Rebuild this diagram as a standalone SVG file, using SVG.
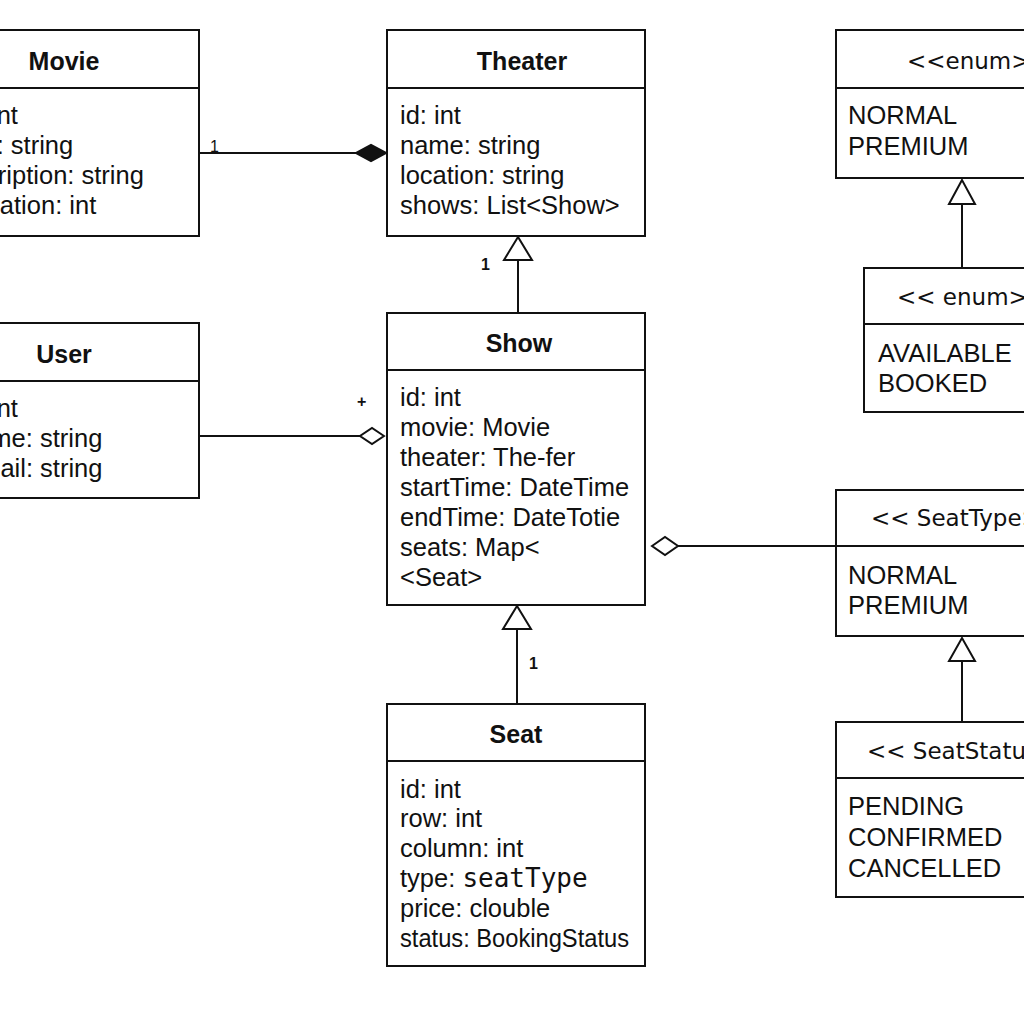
<svg xmlns="http://www.w3.org/2000/svg" width="1024" height="1024" viewBox="0 0 1024 1024">
<style>
.box{fill:#fff;stroke:#111;stroke-width:2}
.div{stroke:#111;stroke-width:2}
.ttl{font-family:"Liberation Sans",Arial,sans-serif;font-size:25px;font-weight:bold;fill:#111;text-anchor:middle}
.att{font-family:"Liberation Sans",Arial,sans-serif;font-size:25.5px;fill:#111}
.st{font-family:"DejaVu Sans",sans-serif;font-size:23px;fill:#111}
.mono{font-family:"DejaVu Sans Mono",monospace;font-size:26px}
.ln{stroke:#111;stroke-width:2;fill:none}
.hol{fill:#fff;stroke:#111;stroke-width:2}
.fil{fill:#111;stroke:#111;stroke-width:2}
.lbl{font-family:"Liberation Sans",Arial,sans-serif;font-size:16px;fill:#111}
</style>
<rect width="1024" height="1024" fill="#fff"/>
<g id="connectors">
  <line class="ln" x1="199" y1="153" x2="358" y2="153"/>
  <polygon class="fil" points="386,153 371,145 356,153 371,161"/>
  <text class="lbl" x="210" y="152">1</text>
  <line class="ln" x1="199" y1="436" x2="361" y2="436"/>
  <polygon class="hol" points="384,436 372,428 360,436 372,444"/>
  <text class="lbl" x="357" y="407" font-weight="bold">+</text>
  <line class="ln" x1="518" y1="313" x2="518" y2="260"/>
  <polygon class="hol" points="518,237 504,260 532,260"/>
  <text class="lbl" x="481" y="270" font-weight="bold">1</text>
  <line class="ln" x1="517" y1="704" x2="517" y2="630"/>
  <polygon class="hol" points="517,606 503,629 531,629"/>
  <text class="lbl" x="529" y="669" font-weight="bold">1</text>
  <line class="ln" x1="678" y1="546" x2="836" y2="546"/>
  <polygon class="hol" points="652,546 665,537 678,546 665,555"/>
  <line class="ln" x1="962" y1="268" x2="962" y2="204"/>
  <polygon class="hol" points="962,180 949,204 975,204"/>
  <line class="ln" x1="962" y1="722" x2="962" y2="661"/>
  <polygon class="hol" points="962,638 949,661 975,661"/>
</g>
<g id="movie">
  <rect class="box" x="-59" y="30" width="258" height="206"/>
  <line class="div" x1="-59" y1="88" x2="199" y2="88"/>
  <text class="ttl" x="64" y="70">Movie</text>
  <text class="att" x="-43" y="124">id: int</text>
  <text class="att" x="-43" y="154">title: string</text>
  <text class="att" x="-56" y="184">description: string</text>
  <text class="att" x="-37" y="214">duration: int</text>
</g>
<g id="user">
  <rect class="box" x="-59" y="323" width="258" height="175"/>
  <line class="div" x1="-59" y1="381" x2="199" y2="381"/>
  <text class="ttl" x="64" y="363">User</text>
  <text class="att" x="-43" y="417">id: int</text>
  <text class="att" x="-38" y="447">name: string</text>
  <text class="att" x="-35" y="477">email: string</text>
</g>
<g id="theater">
  <rect class="box" x="387" y="30" width="258" height="206"/>
  <line class="div" x1="387" y1="88" x2="645" y2="88"/>
  <text class="ttl" x="522" y="70">Theater</text>
  <text class="att" x="400" y="124">id: int</text>
  <text class="att" x="400" y="154">name: string</text>
  <text class="att" x="400" y="184">location:  string</text>
  <text class="att" x="400" y="214">shows: List&lt;Show&gt;</text>
</g>
<g id="show">
  <rect class="box" x="387" y="313" width="258" height="292"/>
  <line class="div" x1="387" y1="370" x2="645" y2="370"/>
  <text class="ttl" x="519" y="352">Show</text>
  <text class="att" x="400" y="406">id: int</text>
  <text class="att" x="400" y="436">movie: Movie</text>
  <text class="att" x="400" y="466">theater: The-fer</text>
  <text class="att" x="400" y="496">startTime: DateTime</text>
  <text class="att" x="400" y="526">endTime: DateTotie</text>
  <text class="att" x="400" y="556">seats: Map&lt;</text>
  <text class="att" x="400" y="586">&lt;Seat&gt;</text>
</g>
<g id="seat">
  <rect class="box" x="387" y="704" width="258" height="262"/>
  <line class="div" x1="387" y1="761" x2="645" y2="761"/>
  <text class="ttl" x="516" y="743">Seat</text>
  <text class="att" x="400" y="798">id: int</text>
  <text class="att" x="400" y="827">row: int</text>
  <text class="att" x="400" y="857">column: int</text>
  <text class="att" x="400" y="887">type: <tspan class="mono">seatType</tspan></text>
  <text class="att" x="400" y="917">price: clouble</text>
  <text class="att" x="400" y="947" textLength="229" lengthAdjust="spacingAndGlyphs">status: BookingStatus</text>
</g>
<g id="enum1">
  <rect class="box" x="836" y="30" width="260" height="148"/>
  <line class="div" x1="836" y1="88" x2="1096" y2="88"/>
  <text class="st" x="907" y="69">&lt;&lt;enum&gt;</text>
  <text class="att" x="848" y="124">NORMAL</text>
  <text class="att" x="848" y="155">PREMIUM</text>
</g>
<g id="enum2">
  <rect class="box" x="864" y="268" width="260" height="144"/>
  <line class="div" x1="864" y1="324" x2="1124" y2="324"/>
  <text class="st" x="897" y="305">&lt;&lt; enum&gt;</text>
  <text class="att" x="878" y="362">AVAILABLE</text>
  <text class="att" x="878" y="392">BOOKED</text>
</g>
<g id="seattype">
  <rect class="box" x="836" y="490" width="260" height="146"/>
  <line class="div" x1="836" y1="546" x2="1096" y2="546"/>
  <text class="st" x="871" y="526" font-size="24">&lt;&lt; SeatType&gt;&gt;</text>
  <text class="att" x="848" y="584">NORMAL</text>
  <text class="att" x="848" y="614">PREMIUM</text>
</g>
<g id="seatstatus">
  <rect class="box" x="836" y="722" width="260" height="175"/>
  <line class="div" x1="836" y1="778" x2="1096" y2="778"/>
  <text class="st" x="867" y="759" font-size="24">&lt;&lt; SeatStatus&gt;&gt;</text>
  <text class="att" x="848" y="815">PENDING</text>
  <text class="att" x="848" y="846">CONFIRMED</text>
  <text class="att" x="848" y="877">CANCELLED</text>
</g>
</svg>
